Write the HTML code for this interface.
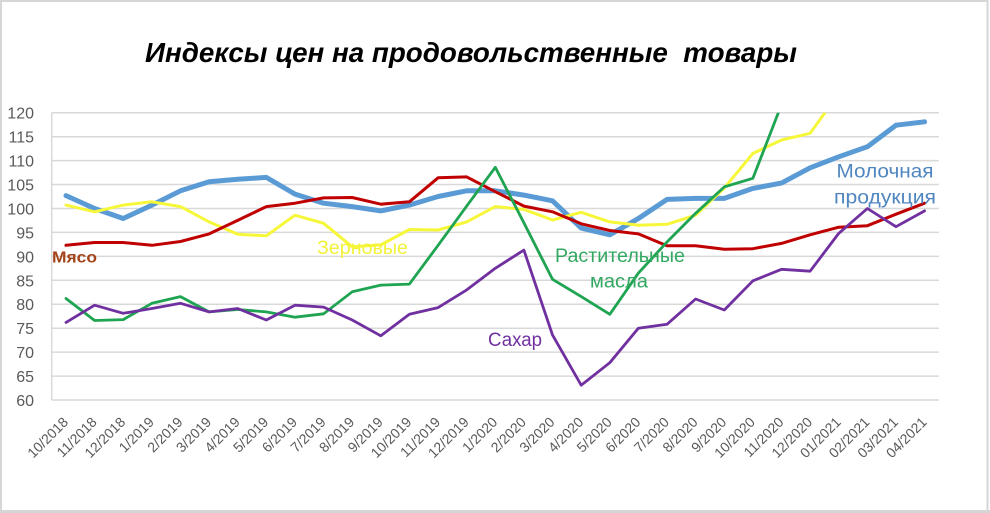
<!DOCTYPE html>
<html><head><meta charset="utf-8">
<style>
html,body{margin:0;padding:0;background:#fff;}
svg{display:block;}
text{font-family:"Liberation Sans","DejaVu Sans",sans-serif;}
</style></head>
<body>
<svg width="990" height="513" viewBox="0 0 990 513" xmlns="http://www.w3.org/2000/svg">
<rect x="0" y="0" width="990" height="513" fill="#fff"/>
<!-- frame -->
<line x1="0" y1="1" x2="988" y2="1" stroke="#d6d6d6" stroke-width="2"/>
<line x1="1" y1="0" x2="1" y2="513" stroke="#d6d6d6" stroke-width="2"/>
<line x1="987.5" y1="0" x2="987.5" y2="513" stroke="#d6d6d6" stroke-width="2"/>
<line x1="0" y1="511.5" x2="990" y2="511.5" stroke="#d6d6d6" stroke-width="3"/>

<!-- title -->
<text x="145" y="62" font-size="28" font-weight="bold" font-style="italic" fill="#000" textLength="652" lengthAdjust="spacingAndGlyphs">Индексы цен на продовольственные&#160; товары</text>

<!-- gridlines -->
<g stroke="#d9d9d9" stroke-width="1.5">
<line x1="51.7" y1="112.7" x2="939" y2="112.7"/>
<line x1="51.7" y1="136.7" x2="939" y2="136.7"/>
<line x1="51.7" y1="160.6" x2="939" y2="160.6"/>
<line x1="51.7" y1="184.5" x2="939" y2="184.5"/>
<line x1="51.7" y1="208.5" x2="939" y2="208.5"/>
<line x1="51.7" y1="232.4" x2="939" y2="232.4"/>
<line x1="51.7" y1="256.4" x2="939" y2="256.4"/>
<line x1="51.7" y1="280.3" x2="939" y2="280.3"/>
<line x1="51.7" y1="304.2" x2="939" y2="304.2"/>
<line x1="51.7" y1="328.2" x2="939" y2="328.2"/>
<line x1="51.7" y1="352.1" x2="939" y2="352.1"/>
<line x1="51.7" y1="376.1" x2="939" y2="376.1"/>
<line x1="51.7" y1="400" x2="939" y2="400"/>
<line x1="51.7" y1="112.7" x2="51.7" y2="400"/>
</g>

<!-- y labels -->
<g font-size="16" fill="#595959" text-anchor="end">
<text x="34" y="118.7">120</text>
<text x="34" y="142.7">115</text>
<text x="34" y="166.6">110</text>
<text x="34" y="190.5">105</text>
<text x="34" y="214.5">100</text>
<text x="34" y="238.4">95</text>
<text x="34" y="262.4">90</text>
<text x="34" y="286.3">85</text>
<text x="34" y="310.2">80</text>
<text x="34" y="334.2">75</text>
<text x="34" y="358.1">70</text>
<text x="34" y="382.1">65</text>
<text x="34" y="406">60</text>
</g>

<!-- x labels -->
<g font-size="14" fill="#595959" text-anchor="end">
<text transform="translate(69,423) rotate(-45)">10/2018</text>
<text transform="translate(97.6,423) rotate(-45)">11/2018</text>
<text transform="translate(126.2,423) rotate(-45)">12/2018</text>
<text transform="translate(154.9,423) rotate(-45)">1/2019</text>
<text transform="translate(183.5,423) rotate(-45)">2/2019</text>
<text transform="translate(212.1,423) rotate(-45)">3/2019</text>
<text transform="translate(240.7,423) rotate(-45)">4/2019</text>
<text transform="translate(269.3,423) rotate(-45)">5/2019</text>
<text transform="translate(298,423) rotate(-45)">6/2019</text>
<text transform="translate(326.6,423) rotate(-45)">7/2019</text>
<text transform="translate(355.2,423) rotate(-45)">8/2019</text>
<text transform="translate(383.8,423) rotate(-45)">9/2019</text>
<text transform="translate(412.4,423) rotate(-45)">10/2019</text>
<text transform="translate(441.1,423) rotate(-45)">11/2019</text>
<text transform="translate(469.7,423) rotate(-45)">12/2019</text>
<text transform="translate(498.3,423) rotate(-45)">1/2020</text>
<text transform="translate(526.9,423) rotate(-45)">2/2020</text>
<text transform="translate(555.5,423) rotate(-45)">3/2020</text>
<text transform="translate(584.2,423) rotate(-45)">4/2020</text>
<text transform="translate(612.8,423) rotate(-45)">5/2020</text>
<text transform="translate(641.4,423) rotate(-45)">6/2020</text>
<text transform="translate(670,423) rotate(-45)">7/2020</text>
<text transform="translate(698.6,423) rotate(-45)">8/2020</text>
<text transform="translate(727.3,423) rotate(-45)">9/2020</text>
<text transform="translate(755.9,423) rotate(-45)">10/2020</text>
<text transform="translate(784.5,423) rotate(-45)">11/2020</text>
<text transform="translate(813.1,423) rotate(-45)">12/2020</text>
<text transform="translate(841.7,423) rotate(-45)">01/2021</text>
<text transform="translate(870.4,423) rotate(-45)">02/2021</text>
<text transform="translate(899,423) rotate(-45)">03/2021</text>
<text transform="translate(927.6,423) rotate(-45)">04/2021</text>
</g>

<defs>
<clipPath id="plot"><rect x="40" y="112.7" width="920" height="300"/></clipPath>
</defs>

<g clip-path="url(#plot)" fill="none" stroke-linejoin="round" stroke-linecap="round">
<!-- dairy (blue) -->
<polyline stroke="#5b9bd5" stroke-width="5" points="66,195.6 94.6,208.5 123.2,218.5 151.9,205.1 180.5,190.8 209.1,181.7 237.7,179.3 266.3,177.4 295,194.1 323.6,203.2 352.2,206.6 380.8,210.9 409.4,205.1 438.1,196.5 466.7,190.8 495.3,190.8 523.9,195.1 552.5,200.8 581.2,228.1 609.8,234.8 638.4,218.5 667,199.4 695.6,198.4 724.3,198.4 752.9,188.4 781.5,183.1 810.1,167.8 838.7,156.8 867.4,146.7 896,125.2 924.6,121.8"/>
<!-- cereals (yellow) -->
<polyline stroke="#f7f73a" stroke-width="3" points="66,205.1 94.6,211.8 123.2,205.1 151.9,201.8 180.5,206.6 209.1,221.9 237.7,234.3 266.3,235.8 295,215.2 323.6,223.3 352.2,246.8 380.8,244.9 409.4,229.5 438.1,230 466.7,221.9 495.3,206.6 523.9,209.4 552.5,220 581.2,212.3 609.8,221.9 638.4,225.2 667,224.3 695.6,215.2 724.3,188 752.9,153.4 781.5,140 810.1,133.3 838.7,93.6"/>
<!-- meat (red) -->
<polyline stroke="#c00000" stroke-width="3" points="66,245.3 94.6,242.5 123.2,242.5 151.9,245.3 180.5,241.5 209.1,233.9 237.7,220.4 266.3,206.6 295,203.2 323.6,197.9 352.2,197.5 380.8,204.2 409.4,201.8 438.1,177.8 466.7,176.9 495.3,191.7 523.9,206.1 552.5,211.8 581.2,223.8 609.8,230.5 638.4,233.9 667,245.8 695.6,245.8 724.3,249.2 752.9,248.7 781.5,243.4 810.1,234.8 838.7,227.2 867.4,225.7 896,214.2 924.6,203.2"/>
<!-- vegetable oils (green) -->
<polyline stroke="#1fa452" stroke-width="2.8" points="66,298.5 94.6,320.5 123.2,319.6 151.9,303.3 180.5,296.6 209.1,311.9 237.7,309.5 266.3,311.9 295,317.2 323.6,313.8 352.2,291.8 380.8,285.1 409.4,284.1 438.1,245.3 466.7,206.1 495.3,167.3 523.9,222.8 552.5,279.3 581.2,296.6 609.8,314.3 638.4,273.1 667,242 695.6,213.3 724.3,186.9 752.9,178.3 781.5,104.6"/>
<!-- sugar (purple) -->
<polyline stroke="#7030a0" stroke-width="2.8" points="66,322.4 94.6,305.2 123.2,313.3 151.9,308.5 180.5,303.3 209.1,311.9 237.7,308.5 266.3,320 295,305.2 323.6,307.1 352.2,320 380.8,335.8 409.4,314.3 438.1,307.6 466.7,289.9 495.3,268.3 523.9,250.1 552.5,334.9 581.2,385.2 609.8,362.7 638.4,328.2 667,324.3 695.6,299 724.3,310 752.9,280.8 781.5,269.3 810.1,271.2 838.7,233.4 867.4,208.5 896,226.7 924.6,210.9"/>
</g>

<!-- series labels -->
<text x="52" y="262.5" font-size="16" font-weight="bold" fill="#a5441a" textLength="45" lengthAdjust="spacingAndGlyphs">Мясо</text>
<text x="317" y="254" font-size="19" fill="#f2f23a" textLength="91" lengthAdjust="spacingAndGlyphs">Зерновые</text>
<text x="555" y="262" font-size="19" fill="#33a862" textLength="130" lengthAdjust="spacingAndGlyphs">Растительные</text>
<text x="590" y="287.5" font-size="19" fill="#33a862" textLength="58" lengthAdjust="spacingAndGlyphs">масла</text>
<text x="488" y="346" font-size="19" fill="#7030a0" textLength="54" lengthAdjust="spacingAndGlyphs">Сахар</text>
<text x="836.5" y="177.5" font-size="19" fill="#4f86c0" textLength="97" lengthAdjust="spacingAndGlyphs">Молочная</text>
<text x="834" y="203.5" font-size="19" fill="#4f86c0" textLength="102" lengthAdjust="spacingAndGlyphs">продукция</text>
</svg>
</body></html>
